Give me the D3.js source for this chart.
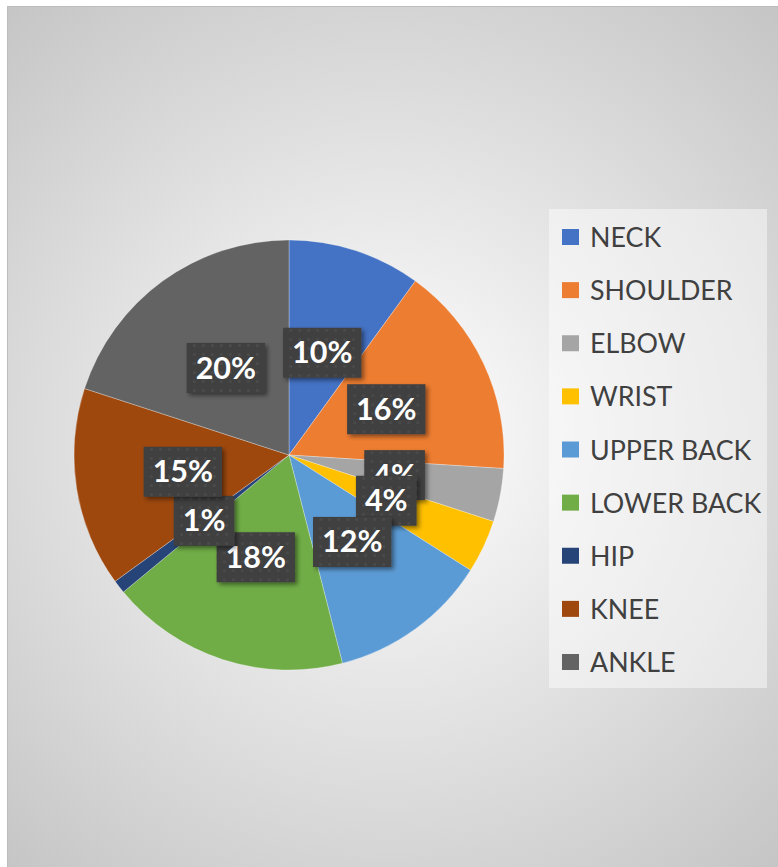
<!DOCTYPE html>
<html><head><meta charset="utf-8">
<script src="https://cdn.jsdelivr.net/npm/d3@7"></script>
<style>body{margin:0;background:#fff;} svg{display:block}</style>
</head><body>
<svg id="c" width="778" height="867"></svg>
<script>
const categories = ["NECK","SHOULDER","ELBOW","WRIST","UPPER BACK","LOWER BACK","HIP","KNEE","ANKLE"];
const values = [10,16,4,4,12,18,1,15,20];
const colors = ["#4472C4","#ED7D31","#A5A5A5","#FFC000","#5B9BD5","#70AD47","#264478","#9E480E","#636363"];

const svg = d3.select("#c");
const W = 778, H = 867;
const defs = svg.append("defs");

// background radial gradient
const rg = defs.append("radialGradient").attr("id","bg")
  .attr("gradientUnits","userSpaceOnUse").attr("cx",390).attr("cy",438).attr("r",590);
rg.append("stop").attr("offset","0%").attr("stop-color","#ffffff");
rg.append("stop").attr("offset","100%").attr("stop-color","#c4c4c4");

// dotted label pattern
const pat = defs.append("pattern").attr("id","dots").attr("patternUnits","userSpaceOnUse")
  .attr("width",9).attr("height",9);
pat.append("rect").attr("width",9).attr("height",9).attr("fill","#3f3f3f");
pat.append("circle").attr("cx",4.5).attr("cy",4.5).attr("r",1.6).attr("fill","#4b4b4b");

const f = defs.append("filter").attr("id","shadow").attr("x","-20%").attr("y","-20%").attr("width","150%").attr("height","150%");
f.append("feDropShadow").attr("dx",2.5).attr("dy",2.5).attr("stdDeviation",2).attr("flood-color","#000").attr("flood-opacity",0.45);

svg.append("rect").attr("x",7.5).attr("y",6.5).attr("width",W).attr("height",H)
  .attr("fill","url(#bg)").attr("stroke","#bdbdbd").attr("stroke-width",1);

const cx = 289, cy = 455, R = 215;
const pie = d3.pie().sort(null).value(d => d)(values);
const arc = d3.arc().innerRadius(0).outerRadius(R);
const total = d3.sum(values);
const fmt = d3.format(".0%");

const g = svg.append("g").attr("transform",`translate(${cx},${cy})`);
g.selectAll("path.slice").data(pie).join("path").attr("class","slice")
  .attr("d", arc).attr("fill",(d,i)=>colors[i])
  .attr("stroke","#ffffff").attr("stroke-opacity",0.35).attr("stroke-width",0.8);

// data labels
const lab = g.selectAll("g.lab").data(pie).join("g").attr("class","lab")
  .attr("transform", d => { const c = arc.centroid(d); return `translate(${c[0]},${c[1]})`; });
lab.each(function(d){
  const s = d3.select(this);
  const r = s.append("rect").attr("fill","url(#dots)").attr("filter","url(#shadow)");
  const t = s.append("text").text(fmt(d.value/total))
    .attr("text-anchor","middle").attr("y",10.5)
    .attr("font-family","Lato, 'Open Sans', sans-serif").attr("font-weight","bold")
    .attr("font-size",30.5).attr("fill","#ffffff");
  const bb = t.node().getBBox();
  const w = bb.width + 18, h = 50;
  r.attr("x",-w/2).attr("y",-h/2).attr("width",w).attr("height",h);
});

// legend
const lg = svg.append("g");
lg.append("rect").attr("x",549).attr("y",209).attr("width",218).attr("height",479)
  .attr("fill","#ffffff").attr("fill-opacity",0.45);
const rowY = d3.scalePoint().domain(categories).range([237, 662]);
const items = lg.selectAll("g.item").data(categories).join("g").attr("class","item")
  .attr("transform", d => `translate(0,${rowY(d)})`);
items.append("rect").attr("x",562).attr("y",-8).attr("width",17).attr("height",16)
  .attr("fill",(d,i)=>colors[i]);
items.append("text").attr("x",590).attr("y",10).text(d=>d)
  .attr("font-family","Lato, 'Open Sans', sans-serif").attr("font-size",26.8)
  .attr("fill","#404040");
</script>
</body></html>
